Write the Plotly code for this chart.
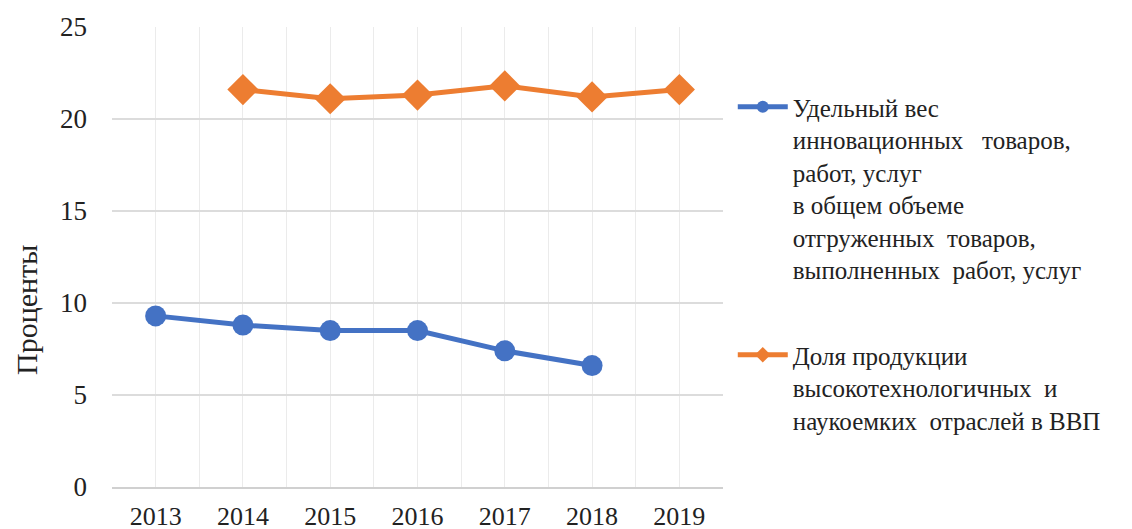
import plotly.graph_objects as go

years = [2013, 2014, 2015, 2016, 2017, 2018, 2019]
innov_share = [9.3, 8.8, 8.5, 8.5, 7.4, 6.6, None]
hitech_share = [None, 21.6, 21.1, 21.3, 21.8, 21.2, 21.6]
y_ticks = [0, 5, 10, 15, 20, 25]

name_innov = ("Удельный вес<br>инновационных\u00a0\u00a0 товаров,<br>работ, услуг<br>"
              "в общем объеме<br>отгруженных\u00a0 товаров,<br>выполненных\u00a0 работ, услуг")
name_hitech = ("Доля продукции<br>высокотехнологичных\u00a0 и<br>наукоемких\u00a0 отраслей в ВВП")

FONT = "Liberation Serif"
TXT = "#222222"

fig = go.Figure()
fig.add_trace(go.Scatter(
    x=years, y=innov_share, name=name_innov, mode="lines+markers",
    line=dict(color="#4472C4", width=5),
    marker=dict(symbol="circle", size=21, color="#4472C4"),
    legendgroup="a", connectgaps=False,
))
fig.add_trace(go.Scatter(
    x=years, y=hitech_share, name=name_hitech, mode="lines+markers",
    line=dict(color="#ED7D31", width=5),
    marker=dict(symbol="diamond", size=24, color="#ED7D31"),
    legendgroup="b", connectgaps=False,
))

fig.update_layout(
    width=1132, height=529,
    margin=dict(l=104, r=417, t=19, b=50),
    paper_bgcolor="white", plot_bgcolor="white",
    font=dict(family=FONT, color=TXT, size=24),
    legend=dict(
        x=1.016, y=0.876, xanchor="left", yanchor="top", valign="top",
        font=dict(family=FONT, size=25, color=TXT),
        tracegroupgap=50, itemsizing="constant", itemwidth=50,
        bgcolor="rgba(0,0,0,0)",
    ),
    showlegend=True,
    annotations=[dict(
        text="Проценты", xref="paper", yref="paper", x=-0.139, y=0.385,
        xanchor="center", yanchor="middle", textangle=-90, showarrow=False,
        borderpad=0,
        font=dict(family=FONT, size=30, color=TXT),
    )],
)
fig.update_xaxes(
    range=[2012.5, 2019.5], tickmode="array", tickvals=years,
    ticktext=[str(y) for y in years],
    showgrid=True, gridcolor="#ebebeb", gridwidth=1,
    minor=dict(tickmode="linear", tick0=2012.5, dtick=1, showgrid=True,
               gridcolor="#ebebeb", gridwidth=1),
    showline=True, linecolor="#d0d0d0", linewidth=2,
    ticks="", zeroline=False, automargin=False,
    ticklabelstandoff=5,
    tickfont=dict(family=FONT, size=26, color=TXT),
)
fig.update_yaxes(
    range=[0, 25], tickvals=y_ticks,
    showgrid=True, gridcolor="#dcdcdc", gridwidth=1.5,
    zeroline=False, showline=False, ticks="", automargin=False,
    ticklabelstandoff=24,
    tickfont=dict(family=FONT, size=27, color=TXT),
)

fig.write_html("out.html")
